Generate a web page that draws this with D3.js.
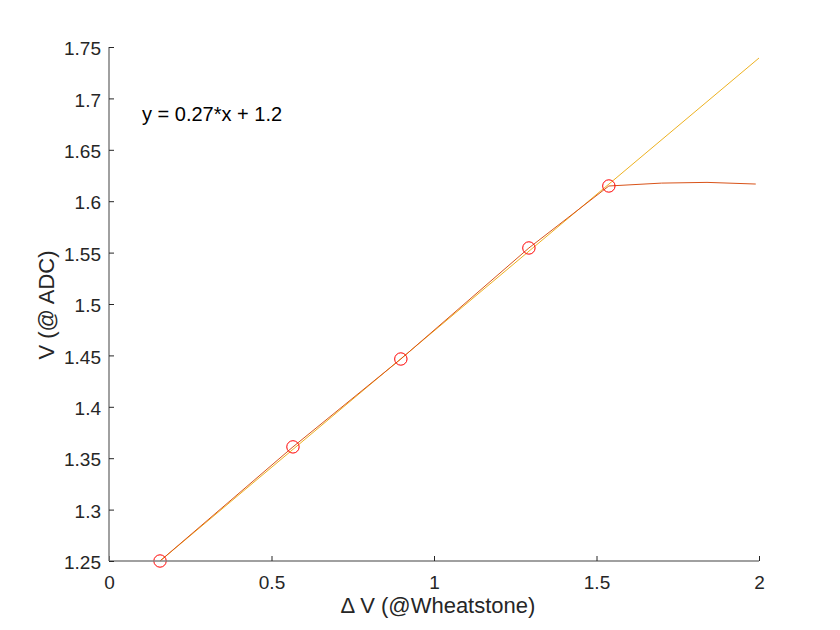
<!DOCTYPE html>
<html><head><meta charset="utf-8">
<script src="https://cdn.jsdelivr.net/npm/d3@7"></script>
<style>body{margin:0;background:#fff}svg{display:block}text{font-family:"Liberation Sans",Arial,sans-serif}</style>
</head><body><svg id="c" width="840" height="630"></svg>
<script>
const measX = [0.157, 0.566, 0.898, 1.292, 1.538];
const measY = [1.250, 1.361, 1.4465, 1.5545, 1.6148];
const curveX = [0.157, 0.566, 0.898, 1.292, 1.538, 1.70, 1.84, 1.99];
const curveY = [1.250, 1.361, 1.4465, 1.5545, 1.6148, 1.6176, 1.6183, 1.6167];
const fitSlope = 0.2655, fitIntercept = 1.2083;
const fitRange = [0.157, 2];
const xTicks = [0, 0.5, 1, 1.5, 2];
const yTicks = [1.25,1.3,1.35,1.4,1.45,1.5,1.55,1.6,1.65,1.7,1.75];
const eqLabel = "y = 0.27*x + 1.2";

const svg = d3.select("#c");
const x = d3.scaleLinear().domain([0,2]).range([109,759]);
const y = d3.scaleLinear().domain([1.25,1.75]).range([561,47]);
const axisCol = "#808080", txtCol = "#262626";

// fit line
svg.append("path").datum(fitRange.map(v=>[v, fitSlope*v+fitIntercept]))
  .attr("d", d3.line().x(d=>x(d[0])).y(d=>y(d[1])))
  .attr("fill","none").attr("stroke","#EDB120").attr("stroke-width",1);
// interpolated curve
svg.append("path").datum(curveX.map((v,i)=>[v,curveY[i]]))
  .attr("d", d3.line().x(d=>x(d[0])).y(d=>y(d[1])))
  .attr("fill","none").attr("stroke","#D95319").attr("stroke-width",1);
// markers
svg.selectAll("circle.m").data(measX.map((v,i)=>[v,measY[i]])).join("circle")
  .attr("cx",d=>x(d[0])).attr("cy",d=>y(d[1])).attr("r",6.2)
  .attr("fill","none").attr("stroke","#FF0000").attr("stroke-width",1);

// axes
const gx = svg.append("g").attr("transform","translate(0,561)")
  .call(d3.axisBottom(x).tickValues(xTicks).tickSize(-5).tickPadding(15).tickFormat(d3.format("")));
const gy = svg.append("g").attr("transform","translate(109,0)")
  .call(d3.axisLeft(y).tickValues(yTicks).tickSize(-5).tickPadding(8).tickFormat(d3.format("")));
[gx,gy].forEach(g=>{
  g.select(".domain").attr("stroke",axisCol).attr("stroke-width",1.5);
  g.selectAll(".tick line").attr("stroke",txtCol).attr("stroke-width",1);
  g.selectAll(".tick text").attr("fill",txtCol).attr("font-size",19).attr("font-family","'Liberation Sans',Arial,sans-serif");
});
gy.selectAll(".tick text").attr("dy","0.4em");
gx.select(".domain").attr("d","M109,0H759");
gy.select(".domain").attr("d","M0,561V47");

svg.append("text").attr("x",438).attr("y",613).attr("text-anchor","middle")
  .attr("font-size",22).attr("fill",txtCol).text("Δ V (@Wheatstone)");
svg.append("text").attr("transform","translate(54,305) rotate(-90)").attr("text-anchor","middle")
  .attr("font-size",22).attr("fill",txtCol).text("V (@ ADC)");
svg.append("text").attr("x",142).attr("y",120.5).attr("font-size",20).attr("fill","#000").text(eqLabel);
</script></body></html>
